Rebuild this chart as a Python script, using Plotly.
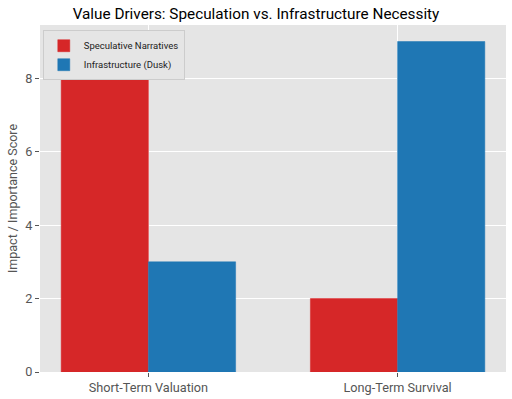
import plotly.graph_objects as go

categories = ["Short-Term Valuation", "Long-Term Survival"]
speculative = [8, 2]
infrastructure = [3, 9]
series_names = ["Speculative Narratives", "Infrastructure (Dusk)"]
y_ticks = [0, 2, 4, 6, 8]

fig = go.Figure()
fig.add_trace(go.Bar(x=categories, y=speculative, name=series_names[0],
                     marker=dict(color="#d62728", line=dict(color="#d62728", width=0.5))))
fig.add_trace(go.Bar(x=categories, y=infrastructure, name=series_names[1],
                     marker=dict(color="#1f77b4", line=dict(color="#1f77b4", width=0.5))))

fig.update_layout(
    width=512, height=399,
    margin=dict(l=40, r=6, t=25, b=27),
    paper_bgcolor="white",
    plot_bgcolor="#e5e5e5",
    barmode="group", bargap=0.3, bargroupgap=0,
    font=dict(family="Roboto, sans-serif", color="#555555", size=11),
    title=dict(text="Value Drivers: Speculation vs. Infrastructure Necessity",
               x=0.5, xanchor="center", y=0.965, yanchor="middle",
               font=dict(size=15.3, color="black")),
    showlegend=True,
    legend=dict(x=0.006, y=0.985, xanchor="left", yanchor="top",
                bgcolor="#e5e5e5", bordercolor="#cccccc", borderwidth=1,
                font=dict(size=9.5, color="#222222"), tracegroupgap=0,
                itemwidth=30),
    xaxis=dict(range=[-0.435, 1.435], showgrid=True, gridcolor="white",
               ticks="outside", ticklen=4, tickcolor="#555555", automargin=False,
               tickfont=dict(size=12.7, color="#555555"), zeroline=False),
    yaxis=dict(range=[0, 9.45], tickvals=y_ticks, showgrid=True, gridcolor="white",
               ticks="outside", ticklen=4, tickcolor="#555555", automargin=False,
               tickfont=dict(size=12.7, color="#555555"), zeroline=False,
               title=dict(text="Impact / Importance Score", font=dict(size=12.5, color="#555555"),
                          standoff=4)),
)

fig.write_html("out.html", config={"displayModeBar": False},
               post_script="document.body.style.margin='0';")
